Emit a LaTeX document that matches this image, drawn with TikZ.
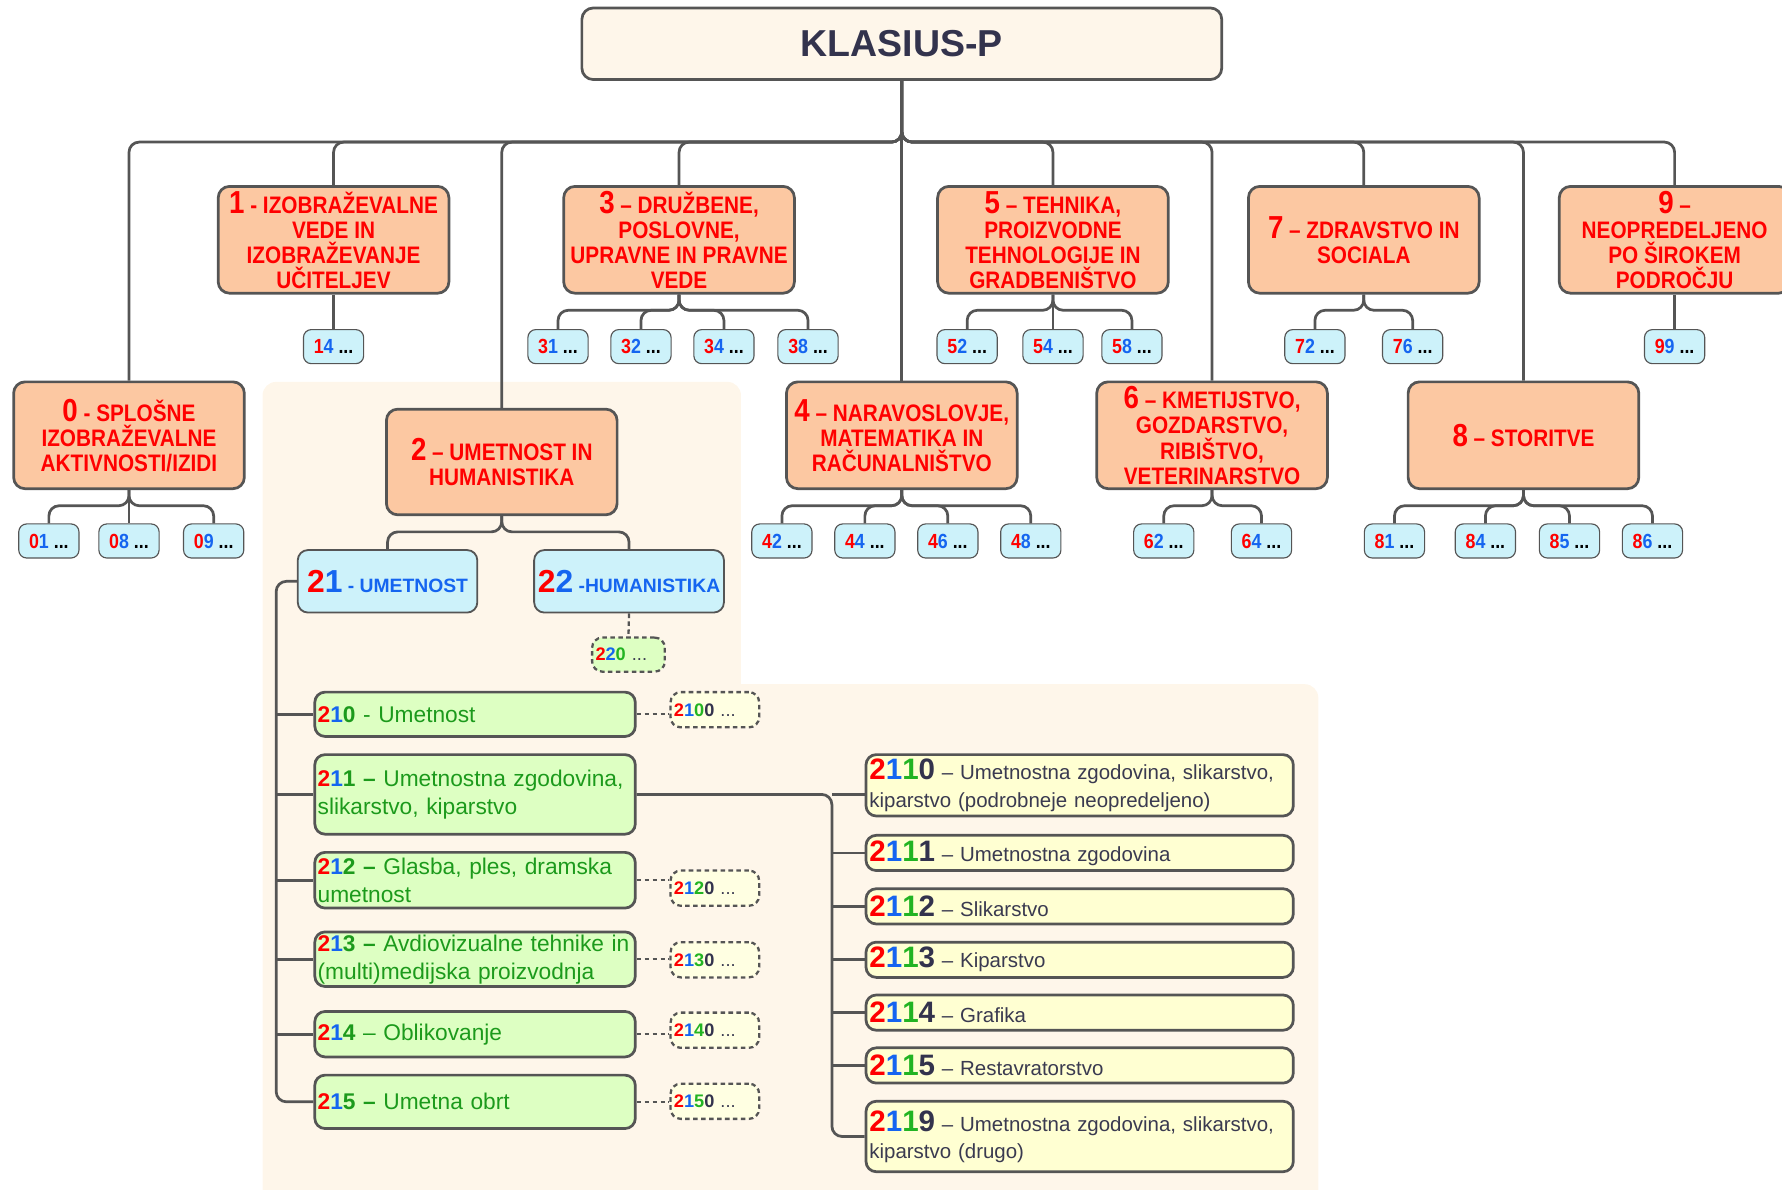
\documentclass[tikz,border=0pt]{standalone}
\usepackage{fontspec}
\setmainfont{Liberation Sans}
\newfontfamily\narrowf[FakeStretch=0.87]{Liberation Sans}
\usetikzlibrary{calc}
\definecolor{cred}{HTML}{FF0000}
\definecolor{cblue}{HTML}{1565F0}
\definecolor{cgreen}{HTML}{22B422}
\definecolor{tgreen}{HTML}{1C9A1C}
\definecolor{cnavy}{HTML}{33334D}
\definecolor{ytext}{HTML}{3A3A50}
\definecolor{cline}{HTML}{555555}
\definecolor{salmon}{HTML}{FCC8A2}
\definecolor{lblue}{HTML}{CDF2FA}
\definecolor{lgreen}{HTML}{DDFFC2}
\definecolor{lyellow}{HTML}{FFFFD2}
\definecolor{cream}{HTML}{FEF6EA}
\definecolor{dyellow}{HTML}{FFFFE2}
\newcommand\cR[1]{\textcolor{cred}{#1}}
\newcommand\cB[1]{\textcolor{cblue}{#1}}
\newcommand\cG[1]{\textcolor{cgreen}{#1}}
\newcommand\cN[1]{\textcolor{cnavy}{#1}}
\newcommand\bignum[1]{{\fontsize{28}{22}\selectfont #1}}
\newcommand\sm[2]{\cR{#1}\cB{#2} ...}
\newcommand\ynum[1]{{\bfseries\fontsize{26}{24}\selectfont\cR{2}\cB{1}\cG{1}\cN{#1}}}
\newcommand\dnum[1]{{\bfseries\cR{2}\cB{1}\cG{#1}\cN{0}} \textcolor{ytext}{...}}
\newcommand\fanout[3]{\foreach \c in {#3}{\draw[conn] (#1.south) -- (#1.south |- #2) -- (\c.north |- #2) -- (\c.north);}}
\tikzset{
 conn/.style={draw=cline, line width=2.4pt, rounded corners=9pt},
 dconn/.style={draw=cline, line width=2pt, dash pattern=on 4pt off 3pt},
 big/.style={draw=cline, line width=2.4pt, fill=salmon, rounded corners=10pt, minimum width=203pt, minimum height=94pt, inner sep=1pt, align=center, text=cred, font=\narrowf\bfseries\fontsize{21}{22}\selectfont},
 small/.style={draw=cline, line width=1pt, fill=lblue, rounded corners=7pt, minimum width=53pt, minimum height=30pt, inner sep=0pt, font=\narrowf\bfseries\fontsize{18}{20}\selectfont},
 mid/.style={draw=cline, line width=1.6pt, fill=lblue, rounded corners=9pt, minimum height=55pt, inner sep=0pt, font=\bfseries\fontsize{17}{20}\selectfont, text=cblue},
 gbox/.style={draw=cline, line width=2.4pt, fill=lgreen, rounded corners=9pt, minimum width=282pt, text width=277pt, align=left, inner xsep=2.5pt, inner ysep=0pt, text=tgreen, font=\fontsize{20}{24.5}\selectfont},
 ybox/.style={draw=cline, line width=2.4pt, fill=lyellow, rounded corners=9pt, minimum width=376pt, text width=370pt, align=left, inner xsep=3pt, inner ysep=0pt, text=ytext, font=\fontsize{18}{24}\selectfont},
 dbox/.style={draw=cline, line width=2pt, dash pattern=on 4pt off 3pt, fill=dyellow, rounded corners=9pt, minimum width=78pt, minimum height=31pt, text width=72pt, align=left, inner xsep=3pt, inner ysep=0pt, font=\fontsize{16}{18}\selectfont},
 region/.style={fill=cream, draw=none, rounded corners=12pt},
}
\begin{document}
\begin{tikzpicture}[x=1pt,y=-1pt]
\useasboundingbox (0,0) rectangle (1568,1047);
\clip (0,0) rectangle (1568,1047);
% background regions
\path[region] (231,336) rectangle (652,1070);
\path[region] (630,602) rectangle (1160,1070);
% coordinates
\coordinate (busT) at (0,125);
\coordinate (busA) at (0,273);
\coordinate (busB) at (0,445);
\coordinate (busC) at (0,468);
\coordinate (spineA) at (243,0);
\coordinate (spineB) at (732,0);
% title
\node[draw=cline, line width=2.4pt, fill=cream, rounded corners=10pt, minimum width=563pt, minimum height=63pt, font=\bfseries\fontsize{33}{36}\selectfont, text=cnavy] (title) at (793.5,38.5) {KLASIUS-P};
% main boxes
\node[big] (b0) at (113.5,383) {\bignum{0} - SPLOŠNE\\IZOBRAŽEVALNE\\AKTIVNOSTI/IZIDI};
\node[big] (b1) at (293.5,211) {\bignum{1} - IZOBRAŽEVALNE\\VEDE IN\\IZOBRAŽEVANJE\\UČITELJEV};
\node[big, minimum height=93pt] (b2) at (441.5,406.5) {\bignum{2} – UMETNOST IN\\HUMANISTIKA};
\node[big] (b3) at (597.5,211) {\bignum{3} – DRUŽBENE,\\POSLOVNE,\\UPRAVNE IN PRAVNE\\VEDE};
\node[big] (b4) at (793.5,383) {\bignum{4} – NARAVOSLOVJE,\\MATEMATIKA IN\\RAČUNALNIŠTVO};
\node[big] (b5) at (926.5,211) {\bignum{5} – TEHNIKA,\\PROIZVODNE\\TEHNOLOGIJE IN\\GRADBENIŠTVO};
\node[big] (b6) at (1066.5,383) {\bignum{6} – KMETIJSTVO,\\GOZDARSTVO,\\RIBIŠTVO,\\VETERINARSTVO};
\node[big] (b7) at (1200,211) {\bignum{7} – ZDRAVSTVO IN\\SOCIALA};
\node[big] (b8) at (1340.5,383) {\bignum{8} – STORITVE};
\node[big] (b9) at (1473.5,211) {\bignum{9} –\\NEOPREDELJENO\\PO ŠIROKEM\\PODROČJU};
% small boxes row 1
\node[small] (s14) at (293.5,305) {\sm{1}{4}};
\node[small] (s31) at (491,305) {\sm{3}{1}};
\node[small] (s32) at (564,305) {\sm{3}{2}};
\node[small] (s34) at (637,305) {\sm{3}{4}};
\node[small] (s38) at (711,305) {\sm{3}{8}};
\node[small] (s52) at (851,305) {\sm{5}{2}};
\node[small] (s54) at (926.5,305) {\sm{5}{4}};
\node[small] (s58) at (996,305) {\sm{5}{8}};
\node[small] (s72) at (1157,305) {\sm{7}{2}};
\node[small] (s76) at (1243,305) {\sm{7}{6}};
\node[small] (s99) at (1473.5,305) {\sm{9}{9}};
% small boxes row 2
\node[small] (s01) at (43,476) {\sm{0}{1}};
\node[small] (s08) at (113.5,476) {\sm{0}{8}};
\node[small] (s09) at (188,476) {\sm{0}{9}};
\node[small] (s42) at (688,476) {\sm{4}{2}};
\node[small] (s44) at (761,476) {\sm{4}{4}};
\node[small] (s46) at (834,476) {\sm{4}{6}};
\node[small] (s48) at (907,476) {\sm{4}{8}};
\node[small] (s62) at (1024,476) {\sm{6}{2}};
\node[small] (s64) at (1110,476) {\sm{6}{4}};
\node[small] (s81) at (1227,476) {\sm{8}{1}};
\node[small] (s84) at (1307,476) {\sm{8}{4}};
\node[small] (s85) at (1381,476) {\sm{8}{5}};
\node[small] (s86) at (1454,476) {\sm{8}{6}};
% level 2 under 2
\node[mid, minimum width=158pt] (s21) at (341,511.5) {{\fontsize{28}{28}\selectfont\cR{2}\cB{1}} - UMETNOST};
\node[mid, minimum width=167pt] (s22) at (553.5,511.5) {{\fontsize{28}{28}\selectfont\cR{2}\cB{2}} -HUMANISTIKA};
\node[dbox, fill=lgreen, minimum width=64pt, text width=58pt, minimum height=30pt] (d220) at (553,576) {{\bfseries\cR{2}\cB{2}\cG{0}} \textcolor{ytext}{...}};
% green boxes
\node[gbox, minimum height=39pt] (g210) at (418,628.5) {\textbf{\cR{2}\cB{1}0} - Umetnost};
\node[gbox, minimum height=70pt] (g211) at (418,699) {\textbf{\cR{2}\cB{1}1 –} Umetnostna zgodovina,\\slikarstvo, kiparstvo};
\node[gbox, minimum height=49pt] (g212) at (418,774.5) {\textbf{\cR{2}\cB{1}2 –} Glasba, ples, dramska\\umetnost};
\node[gbox, minimum height=48pt] (g213) at (418,844) {\textbf{\cR{2}\cB{1}3 –} Avdiovizualne tehnike in\\(multi)medijska proizvodnja};
\node[gbox, minimum height=40pt] (g214) at (418,910) {\textbf{\cR{2}\cB{1}4} – Oblikovanje};
\node[gbox, minimum height=47pt] (g215) at (418,969.5) {\textbf{\cR{2}\cB{1}5 –} Umetna obrt};
% dashed boxes
\node[dbox] (d2100) at (629,624.5) {\dnum{0}};
\node[dbox] (d2120) at (629,781.5) {\dnum{2}};
\node[dbox] (d2130) at (629,844.5) {\dnum{3}};
\node[dbox] (d2140) at (629,906.5) {\dnum{4}};
\node[dbox] (d2150) at (629,969) {\dnum{5}};
% yellow boxes
\node[ybox, minimum height=54pt] (y2110) at (950,691) {\ynum{0} – Umetnostna zgodovina, slikarstvo,\\kiparstvo (podrobneje neopredeljeno)};
\node[ybox, minimum height=31pt] (y2111) at (950,750.5) {\ynum{1} – Umetnostna zgodovina};
\node[ybox, minimum height=31pt] (y2112) at (950,797.5) {\ynum{2} – Slikarstvo};
\node[ybox, minimum height=31pt] (y2113) at (950,844.5) {\ynum{3} – Kiparstvo};
\node[ybox, minimum height=31pt] (y2114) at (950,891) {\ynum{4} – Grafika};
\node[ybox, minimum height=31pt] (y2115) at (950,937.5) {\ynum{5} – Restavratorstvo};
\node[ybox, minimum height=62pt] (y2119) at (950,1000) {\ynum{9} – Umetnostna zgodovina, slikarstvo,\\kiparstvo (drugo)};
% connectors: title to main boxes
\foreach \n in {b0,b1,b2,b3,b5,b6,b7,b8,b9}{\draw[conn] (title.south) -- (title.south |- busT) -- (\n.north |- busT) -- (\n.north);}
\draw[conn] (title.south) -- (b4.north);
% main boxes to small boxes
\draw[conn] (b1.south) -- (s14.north);
\draw[conn] (b9.south) -- (s99.north);
\draw[conn] (b0.south) -- (s08.north);
\draw[conn] (b5.south) -- (s54.north);
\fanout{b3}{busA}{s31,s32,s34,s38}
\fanout{b5}{busA}{s52,s58}
\fanout{b7}{busA}{s72,s76}
\fanout{b0}{busB}{s01,s09}
\fanout{b4}{busB}{s42,s44,s46,s48}
\fanout{b6}{busB}{s62,s64}
\fanout{b8}{busB}{s81,s84,s85,s86}
\fanout{b2}{busC}{s21,s22}
\draw[dconn] (s22.south) -- (d220.north);
% spine of 21
\draw[conn] (s21.west) -- (spineA |- s21.west) -- (spineA |- g215.west) -- (g215.west);
\foreach \g in {g210,g211,g212,g213,g214}{\draw[conn] (spineA |- \g.west) -- (\g.west);}
% dashed links
\draw[dconn] (g210.east) -- (g210.east -| d2100.west);
\draw[dconn] (g212.east) -- (g212.east -| d2120.west);
\draw[dconn] (g213.east) -- (g213.east -| d2130.west);
\draw[dconn] (g214.east) -- (g214.east -| d2140.west);
\draw[dconn] (g215.east) -- (g215.east -| d2150.west);
% spine of 211
\draw[conn] (g211.east) -- (spineB |- g211.east) -- (spineB |- y2119.west) -- (y2119.west);
\draw[conn] (spineB |- g211.east) -- (y2110.west |- g211.east);
\foreach \y in {y2111,y2112,y2113,y2114,y2115}{\draw[conn] (spineB |- \y.west) -- (\y.west);}
\end{tikzpicture}
\end{document}
